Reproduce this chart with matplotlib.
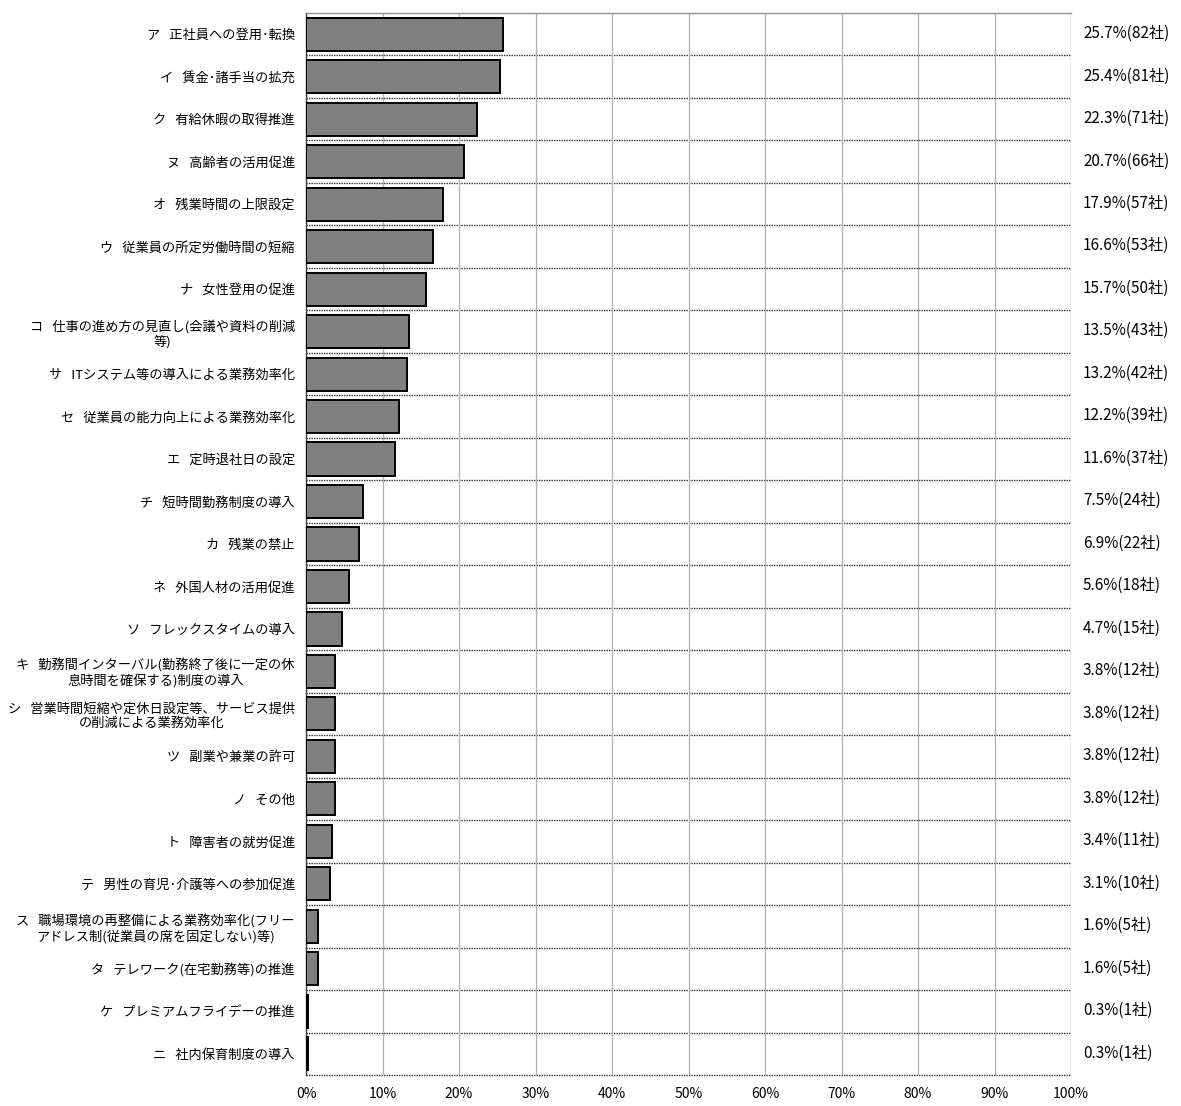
import matplotlib
matplotlib.use("Agg")
import matplotlib.pyplot as plt
from matplotlib.transforms import blended_transform_factory

plt.rcParams['font.family'] = ['Noto Sans CJK JP', 'DejaVu Sans']

categories = [
    "ア   正社員への登用･転換",
    "イ   賃金･諸手当の拡充",
    "ク   有給休暇の取得推進",
    "ヌ   高齢者の活用促進",
    "オ   残業時間の上限設定",
    "ウ   従業員の所定労働時間の短縮",
    "ナ   女性登用の促進",
    "コ   仕事の進め方の見直し(会議や資料の削減\n等)",
    "サ   ITシステム等の導入による業務効率化",
    "セ   従業員の能力向上による業務効率化",
    "エ   定時退社日の設定",
    "チ   短時間勤務制度の導入",
    "カ   残業の禁止",
    "ネ   外国人材の活用促進",
    "ソ   フレックスタイムの導入",
    "キ   勤務間インターバル(勤務終了後に一定の休\n息時間を確保する)制度の導入",
    "シ   営業時間短縮や定休日設定等、サービス提供\nの削減による業務効率化",
    "ツ   副業や兼業の許可",
    "ノ   その他",
    "ト   障害者の就労促進",
    "テ   男性の育児･介護等への参加促進",
    "ス   職場環境の再整備による業務効率化(フリー\nアドレス制(従業員の席を固定しない)等)",
    "タ   テレワーク(在宅勤務等)の推進",
    "ケ   プレミアムフライデーの推進",
    "ニ   社内保育制度の導入",
]
percent = [25.7, 25.4, 22.3, 20.7, 17.9, 16.6, 15.7, 13.5, 13.2, 12.2, 11.6,
           7.5, 6.9, 5.6, 4.7, 3.8, 3.8, 3.8, 3.8, 3.4, 3.1, 1.6, 1.6, 0.3, 0.3]
companies = [82, 81, 71, 66, 57, 53, 50, 43, 42, 39, 37,
             24, 22, 18, 15, 12, 12, 12, 12, 11, 10, 5, 5, 1, 1]
xticks = [0, 10, 20, 30, 40, 50, 60, 70, 80, 90, 100]
xticklabels = [f"{t}%" for t in xticks]

fig = plt.figure(figsize=(11.81, 11.06), dpi=100)
ax = fig.add_axes([306/1181, 1-1075/1106, 765/1181, 1062/1106])

n = len(categories)
y = list(range(n))
ax.barh(y, percent, height=0.78, color='#808080', edgecolor='black', linewidth=1.4, zorder=3)

ax.set_xlim(0, 100)
ax.set_ylim(n - 0.5, -0.5)
ax.set_xticks(xticks)
ax.set_xticklabels(xticklabels, fontsize=10)
ax.set_yticks(y)
ax.set_yticklabels(categories, fontsize=9.5, multialignment='center', linespacing=1.15)
ax.tick_params(axis='both', length=0)
ax.tick_params(axis='x', pad=9)
ax.tick_params(axis='y', pad=8)

ax.grid(axis='x', color='#b0b0b0', linewidth=0.9, zorder=0)
for i in range(n):
    ax.axhline(i + 0.5, color='#303030', linewidth=1.0, linestyle=(0, (1, 0.8)),
               zorder=1, clip_on=False)

for s in ['right', 'bottom']:
    ax.spines[s].set_visible(False)
ax.spines['top'].set_color('#909090')
ax.spines['top'].set_linewidth(1.0)
ax.spines['left'].set_color('#404040')
ax.spines['left'].set_linewidth(1.0)
ax.axvline(100, color='#b0b0b0', linewidth=0.9, zorder=0)

trans = blended_transform_factory(ax.transAxes, ax.transData)
for i, (p, c) in enumerate(zip(percent, companies)):
    ax.text(1.0157, i - 0.02, f"{p}%({c}社)", transform=trans, ha='left', va='center',
            fontsize=11, clip_on=False)

fig.savefig("out.png", dpi=100)
